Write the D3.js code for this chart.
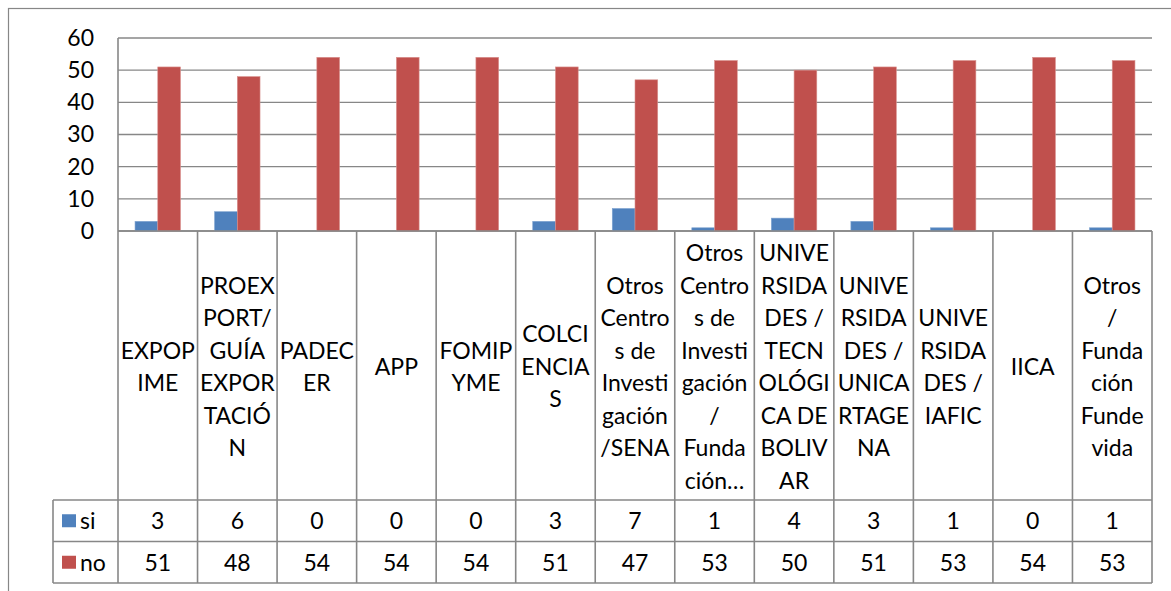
<!DOCTYPE html>
<html>
<head>
<meta charset="utf-8">
<script src="https://cdn.jsdelivr.net/npm/d3@7"></script>
<style>
  body { margin: 0; background: #fff; }
  text { font-family: Lato, "Open Sans", sans-serif; fill: #000; }
</style>
</head>
<body>
<div id="chartwrap"></div>
<script>
const categories = ['EXPOPIME', 'PROEXPORT/GUÍA EXPORTACIÓN', 'PADECER', 'APP', 'FOMIPYME',
  'COLCIENCIAS', 'Otros Centros de Investigación/SENA', 'Otros Centros de Investigación / Fundación…',
  'UNIVERSIDADES / TECNOLÓGICA DE BOLIVAR', 'UNIVERSIDADES / UNICARTAGENA', 'UNIVERSIDADES / IAFIC',
  'IICA', 'Otros / Fundación Fundevida']

// wrapped the way the table header shows them
const labelLines = [
  ['EXPOP', 'IME'],
  ['PROEX', 'PORT/', 'GUÍA', 'EXPOR', 'TACIÓ', 'N'],
  ['PADEC', 'ER'],
  ['APP'],
  ['FOMIP', 'YME'],
  ['COLCI', 'ENCIA', 'S'],
  ['Otros', 'Centro', 's de', 'Investi', 'gación', '/SENA'],
  ['Otros', 'Centro', 's de', 'Investi', 'gación', '/', 'Funda', 'ción…'],
  ['UNIVE', 'RSIDA', 'DES /', 'TECN', 'OLÓGI', 'CA DE', 'BOLIV', 'AR'],
  ['UNIVE', 'RSIDA', 'DES /', 'UNICA', 'RTAGE', 'NA'],
  ['UNIVE', 'RSIDA', 'DES /', 'IAFIC'],
  ['IICA'],
  ['Otros', '/', 'Funda', 'ción', 'Funde', 'vida']
]

const seriesNames = ['si', 'no']
const si = [3, 6, 0, 0, 0, 3, 7, 1, 4, 3, 1, 0, 1]
const no = [51, 48, 54, 54, 54, 51, 47, 53, 50, 51, 53, 54, 53]
const yTicks = [0, 10, 20, 30, 40, 50, 60]

const colors = { si: '#4F81BD', no: '#C0504D' }
const GRID = '#878787'
const FONT = '23px'

const WIDTH = 1171
const HEIGHT = 591

const plot = { left: 118, right: 1152, top: 38, base: 231 }
const table = { legendLeft: 53, headBottom: 500, rowH: 41.5, lineH: 32.5 }

const rows = categories.map((c, i) => ({ cat: c, si: si[i], no: no[i] }))

const svg = d3.select('#chartwrap')
  .append('svg')
  .attr('width', WIDTH)
  .attr('height', HEIGHT)

// outer chart frame (runs off the picture on the right and bottom)
svg.append('rect')
  .attr('x', 8.5).attr('y', 8.5)
  .attr('width', WIDTH).attr('height', HEIGHT)
  .attr('fill', 'none')
  .attr('stroke', GRID)
  .attr('stroke-width', 1.2)

const xScale = d3.scaleBand()
  .domain(categories)
  .range([plot.left, plot.right])

const xInner = d3.scaleBand()
  .domain(seriesNames)
  .range([0, xScale.bandwidth()])
  .paddingOuter(0.75)

const yScale = d3.scaleLinear()
  .domain([0, 60])
  .range([plot.base, plot.top])

// gridlines
svg.append('g')
  .selectAll('line')
  .data(yTicks)
  .enter()
  .append('line')
  .attr('x1', plot.left).attr('x2', plot.right)
  .attr('y1', d => yScale(d)).attr('y2', d => yScale(d))
  .attr('stroke', GRID)
  .attr('stroke-width', 1.4)

const yAxis = d3.axisLeft(yScale)
  .tickValues(yTicks)
  .tickSize(0)
  .tickPadding(24)

svg.append('g')
  .attr('id', 'y-axis')
  .attr('transform', `translate(${plot.left},0)`)
  .call(yAxis)
  .call(g => g.select('.domain').remove())
  .selectAll('text')
  .style('font-family', 'Lato, sans-serif')
  .style('font-size', FONT)
  .attr('fill', '#000')

// bars
const groups = svg.append('g')
  .selectAll('g')
  .data(rows)
  .enter()
  .append('g')
  .attr('transform', d => `translate(${xScale(d.cat)},0)`)

groups.selectAll('rect')
  .data(d => seriesNames.map(s => ({ key: s, value: d[s] })))
  .enter()
  .append('rect')
  .attr('x', d => xInner(d.key))
  .attr('width', xInner.bandwidth())
  .attr('y', d => yScale(d.value))
  .attr('height', d => plot.base - yScale(d.value))
  .attr('fill', d => colors[d.key])
  .attr('stroke', d => d.value > 0 ? (d.key === 'no' ? '#D9928F' : '#7FA3D0') : 'none')
  .attr('stroke-width', 0.6)

// data table
const tableBottom = table.headBottom + 2 * table.rowH
const tbl = svg.append('g').attr('stroke', GRID).attr('stroke-width', 1.6)

// vertical lines at each category edge
const edges = categories.map(c => xScale(c)).concat([plot.right])
tbl.selectAll('line.v')
  .data(edges)
  .enter()
  .append('line')
  .attr('class', 'v')
  .attr('x1', d => d).attr('x2', d => d)
  .attr('y1', (d, i) => i === 0 ? plot.top : plot.base)
  .attr('y2', tableBottom)

tbl.append('line')
  .attr('x1', table.legendLeft).attr('x2', table.legendLeft)
  .attr('y1', table.headBottom).attr('y2', tableBottom)

tbl.selectAll('line.h')
  .data([table.headBottom, table.headBottom + table.rowH, tableBottom])
  .enter()
  .append('line')
  .attr('class', 'h')
  .attr('x1', table.legendLeft).attr('x2', plot.right)
  .attr('y1', d => d).attr('y2', d => d)

tbl.append('line')
  .attr('x1', plot.left).attr('x2', plot.right)
  .attr('y1', plot.base).attr('y2', plot.base)

// header labels
const headMid = (plot.base + table.headBottom) / 2 + 1
svg.append('g')
  .selectAll('text')
  .data(rows)
  .enter()
  .append('text')
  .attr('text-anchor', 'middle')
  .style('font-size', FONT)
  .each(function (d, i) {
    const lines = labelLines[i]
    const cx = xScale(d.cat) + xScale.bandwidth() / 2
    const y0 = headMid - (lines.length - 1) * table.lineH / 2
    d3.select(this).selectAll('tspan')
      .data(lines)
      .enter()
      .append('tspan')
      .attr('x', cx)
      .attr('y', (l, j) => y0 + j * table.lineH)
      .attr('dy', '0.36em')
      .text(l => l)
  })

// value rows + legend keys
seriesNames.forEach((s, r) => {
  const cy = table.headBottom + table.rowH * (r + 0.5)
  svg.append('rect')
    .attr('x', 62).attr('y', cy - 6.5)
    .attr('width', 14).attr('height', 13)
    .attr('fill', colors[s])
  svg.append('text')
    .attr('x', 80).attr('y', cy).attr('dy', '0.36em')
    .style('font-size', FONT)
    .text(s)
  svg.append('g')
    .selectAll('text')
    .data(rows)
    .enter()
    .append('text')
    .attr('x', d => xScale(d.cat) + xScale.bandwidth() / 2)
    .attr('y', cy).attr('dy', '0.36em')
    .attr('text-anchor', 'middle')
    .style('font-size', FONT)
    .text(d => d[s])
})
</script>
</body>
</html>
